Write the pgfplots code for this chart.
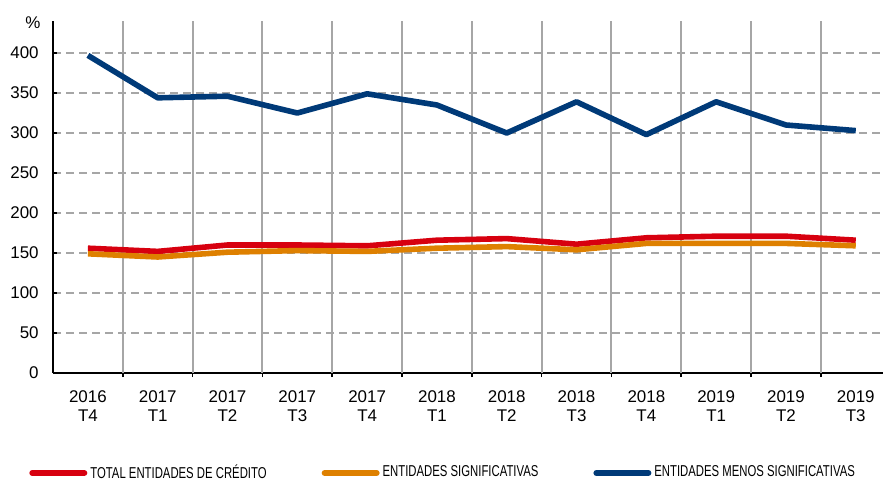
\documentclass[border=0pt]{standalone}
\usepackage{fontspec}
\setmainfont{Liberation Sans}
\newfontfamily\narrowfont[FakeStretch=0.72]{Liberation Sans}
\usepackage{pgfplots}
\pgfplotsset{compat=1.18}
\definecolor{bered}{RGB}{215,0,15}
\definecolor{beorange}{RGB}{222,128,0}
\definecolor{beblue}{RGB}{0,58,120}
\definecolor{gridgray}{RGB}{166,166,166}
\begin{document}
\begin{tikzpicture}
\useasboundingbox (-26.5bp,-54bp) rectangle (415bp,186.5bp);
\begin{axis}[
  scale only axis, width=415bp, height=176bp,
  xmin=-0.5, xmax=11.39, ymin=0, ymax=440,
  axis x line*=bottom, axis y line*=left,
  axis line style={black, line width=1bp, -},
  clip=false,
  xtick={0,...,11},
  xticklabels={{2016\\T4},{2017\\T1},{2017\\T2},{2017\\T3},{2017\\T4},{2018\\T1},{2018\\T2},{2018\\T3},{2018\\T4},{2019\\T1},{2019\\T2},{2019\\T3}},
  xticklabel style={align=center, font=\fontsize{8.5}{9.5}\selectfont, inner sep=0pt, anchor=north, yshift=-6.5bp},
  x tick style={draw=none},
  minor xtick={0.5,1.5,...,10.5},
  minor x tick style={draw=black, line width=0.8bp},
  minor tick length=2bp,
  xtick align=outside,
  ytick={0,50,...,400},
  ymajorgrids, major y grid style={gridgray, line width=1bp, dash pattern=on 4bp off 2.5bp},
  y tick style={black, line width=0.8bp},
  major tick length=2bp,
  ytick align=inside,
  yticklabel style={font=\fontsize{8.5}{9.5}\selectfont, inner sep=0pt, anchor=east, xshift=-7bp},
  /pgf/number format/assume math mode=true,
  legend columns=3,
  legend style={at={(-0.029,-0.284)}, anchor=west, draw=none, fill=none, inner sep=0pt,
    font=\fontsize{7.9}{8}\selectfont\narrowfont,
    /tikz/every even column/.append style={column sep=26bp},
    nodes={inner sep=1.5bp, anchor=west}},
  legend image code/.code={\draw[#1, line cap=round, line width=3bp] (0bp,0bp) -- (26bp,0bp);},
  every axis plot/.append style={line width=2.8bp, line join=round},
]
\pgfplotsinvokeforeach{0.5,1.5,...,10.5}{
  \draw[gridgray, line width=1bp, solid] (axis cs:#1,0) -- (axis cs:#1,440);
}
\addplot[bered] coordinates {(0,156) (1,152) (2,160) (3,160) (4,159) (5,166) (6,168) (7,161) (8,169) (9,171) (10,171) (11,166)};
\addlegendentry{TOTAL ENTIDADES DE CRÉDITO}
\addplot[beorange] coordinates {(0,149) (1,145) (2,151) (3,153) (4,152) (5,156) (6,158) (7,154) (8,162) (9,162) (10,162) (11,159)};
\addlegendentry{ENTIDADES SIGNIFICATIVAS}
\addplot[beblue] coordinates {(0,397) (1,344) (2,346) (3,325) (4,349) (5,335) (6,300) (7,339) (8,298) (9,339) (10,310) (11,303)};
\addlegendentry{ENTIDADES MENOS SIGNIFICATIVAS}
\node[font=\fontsize{8.5}{9.5}\selectfont] at ([xshift=-10bp,yshift=-1bp]rel axis cs:0,1) {\%};
\end{axis}
\end{tikzpicture}
\end{document}
